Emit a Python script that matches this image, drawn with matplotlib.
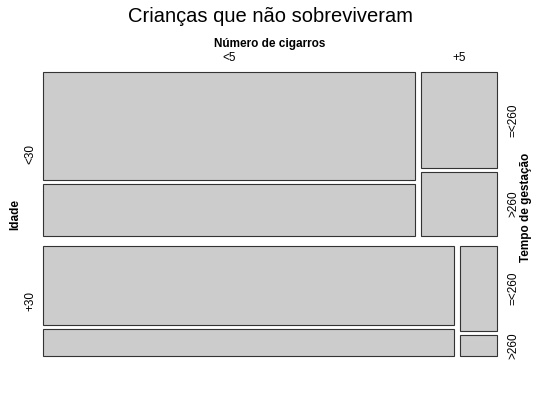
import matplotlib
matplotlib.use("Agg")
import matplotlib.pyplot as plt
from matplotlib.patches import Rectangle
import numpy as np

plt.rcParams['font.family'] = ['Liberation Sans', 'DejaVu Sans']

# criancas que nao sobreviveram: idade x cigarros x tempo de gestacao
idades = ['<30', '+30']
cigarros = ['<5', '+5']
gestacao = ['=<260', '>260']
mortes = np.array([[[50, 24], [9, 6]],
                   [[41, 14], [4, 1]]])

fig = plt.figure(figsize=(5.4, 4.0), dpi=100)
ax = fig.add_axes([0, 0, 1, 1])
ax.set_xlim(0, 540)
ax.set_ylim(400, 0)
ax.axis('off')

# area do mosaico (em pixels) e espacos entre os niveis
x0, x1, y0, y1 = 43, 497, 72, 356
gap1, gap2, gap3 = 10, 6, 4
fs = 8.5

total = mortes.sum()
h_avail = (y1 - y0) - gap1 * (len(idades) - 1)
y = y0
for i, idade in enumerate(idades):
    row_tot = mortes[i].sum()
    rh = h_avail * row_tot / total
    ax.text(30, y + rh / 2, idade, rotation=90, ha='center', va='center', fontsize=fs)
    w_avail = (x1 - x0) - gap2 * (len(cigarros) - 1)
    x = x0
    for j, cig in enumerate(cigarros):
        cw = w_avail * mortes[i, j].sum() / row_tot
        if i == 0:
            ax.text(x + cw / 2, 58, cig, ha='center', va='center', fontsize=fs)
        sh_avail = rh - gap3 * (len(gestacao) - 1)
        yy = y
        for k, g in enumerate(gestacao):
            sh = sh_avail * mortes[i, j, k] / mortes[i, j].sum()
            ax.add_patch(Rectangle((x, yy), cw, sh, facecolor='#cccccc',
                                   edgecolor='#333333', linewidth=0.8))
            if j == len(cigarros) - 1:
                ax.text(513, yy + sh / 2, g, rotation=90, ha='center', va='center', fontsize=fs)
            yy += sh + gap3
        x += cw + gap2
    y += rh + gap1

ax.text(270, 16, 'Crianças que não sobreviveram', ha='center', va='center', fontsize=14.5)
ax.text(270, 44, 'Número de cigarros', ha='center', va='center', fontsize=fs, fontweight='bold')
ax.text(15, 214, 'Idade', rotation=90, ha='center', va='center', fontsize=fs, fontweight='bold')
ax.text(526, 207, 'Tempo de gestação', rotation=90, ha='center', va='center', fontsize=fs, fontweight='bold')

fig.savefig('out.png', dpi=100, facecolor='white')
